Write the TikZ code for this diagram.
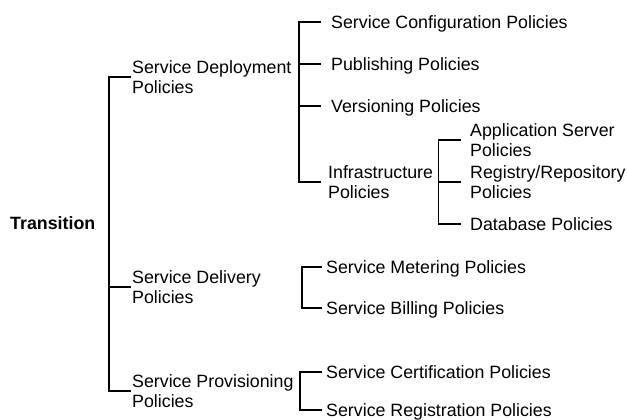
\documentclass[tikz,border=0pt]{standalone}
\usepackage{fontspec}
\setmainfont{Liberation Sans}
\begin{document}
\begin{tikzpicture}[x=1pt,y=-1pt,
  txt/.style={inner sep=0pt,anchor=west,font=\fontsize{17.8}{19.6}\selectfont},
  one/.style={txt,text height=12.8pt,text depth=0pt},
  two/.style={txt,align=left},
  root/.style={one,font=\fontsize{17.8}{19.6}\selectfont\bfseries},
  link/.style={draw=black,line width=1.2pt}]
\useasboundingbox (0,0) rectangle (627,420);

% root and first level
\node[root] (tr) at (10,223) {Transition};
\node[two] (dep)  at (132,77)  {Service Deployment\\Policies};
\node[two] (del)  at (132,287) {Service Delivery\\Policies};
\node[two] (prov) at (132,391) {Service Provisioning\\Policies};

% deployment policies
\node[one] (conf)  at (331,22)  {Service Configuration Policies};
\node[one] (pub)   at (331,64)  {Publishing Policies};
\node[one] (ver)   at (331,106) {Versioning Policies};
\node[two] (infra) at (328,182) {Infrastructure\\Policies};

% infrastructure policies
\node[two] (app) at (470,140) {Application Server\\Policies};
\node[two] (reg) at (470,182) {Registry/Repository\\Policies};
\node[one] (db)  at (470,224) {Database Policies};

% delivery policies
\node[one] (met)  at (326,267) {Service Metering Policies};
\node[one] (bill) at (326,308) {Service Billing Policies};

% provisioning policies
\node[one] (cert)  at (326,372) {Service Certification Policies};
\node[one] (regis) at (326,410) {Service Registration Policies};

% bracket spines
\coordinate (s1) at (109,0);
\coordinate (s2) at (299,0);
\coordinate (s3) at (438.5,0);
\coordinate (s4) at (302,0);
\coordinate (s5) at (300,0);

% main bracket
\draw[link] ([xshift=-1]dep.west) -- (dep.west -| s1) |- ([xshift=-1]prov.west);
\draw[link] ([xshift=-1]del.west) -- (del.west -| s1);

% deployment bracket
\draw[link] ([xshift=-10]conf.west) -- (conf.west -| s2) |- ([xshift=-7]infra.west);
\draw[link] ([xshift=-10]pub.west) -- (pub.west -| s2);
\draw[link] ([xshift=-10]ver.west) -- (ver.west -| s2);

% infrastructure bracket
\draw[link] ([xshift=-9.5]app.west) -- (app.west -| s3) |- ([xshift=-9.5]db.west);
\draw[link] ([xshift=-9.5]reg.west) -- (reg.west -| s3);

% delivery bracket
\draw[link] ([xshift=-4]met.west) -- (met.west -| s4) |- ([xshift=-4]bill.west);

% provisioning bracket
\draw[link] ([xshift=-4]cert.west) -- (cert.west -| s5) |- ([xshift=-4]regis.west);
\end{tikzpicture}
\end{document}
